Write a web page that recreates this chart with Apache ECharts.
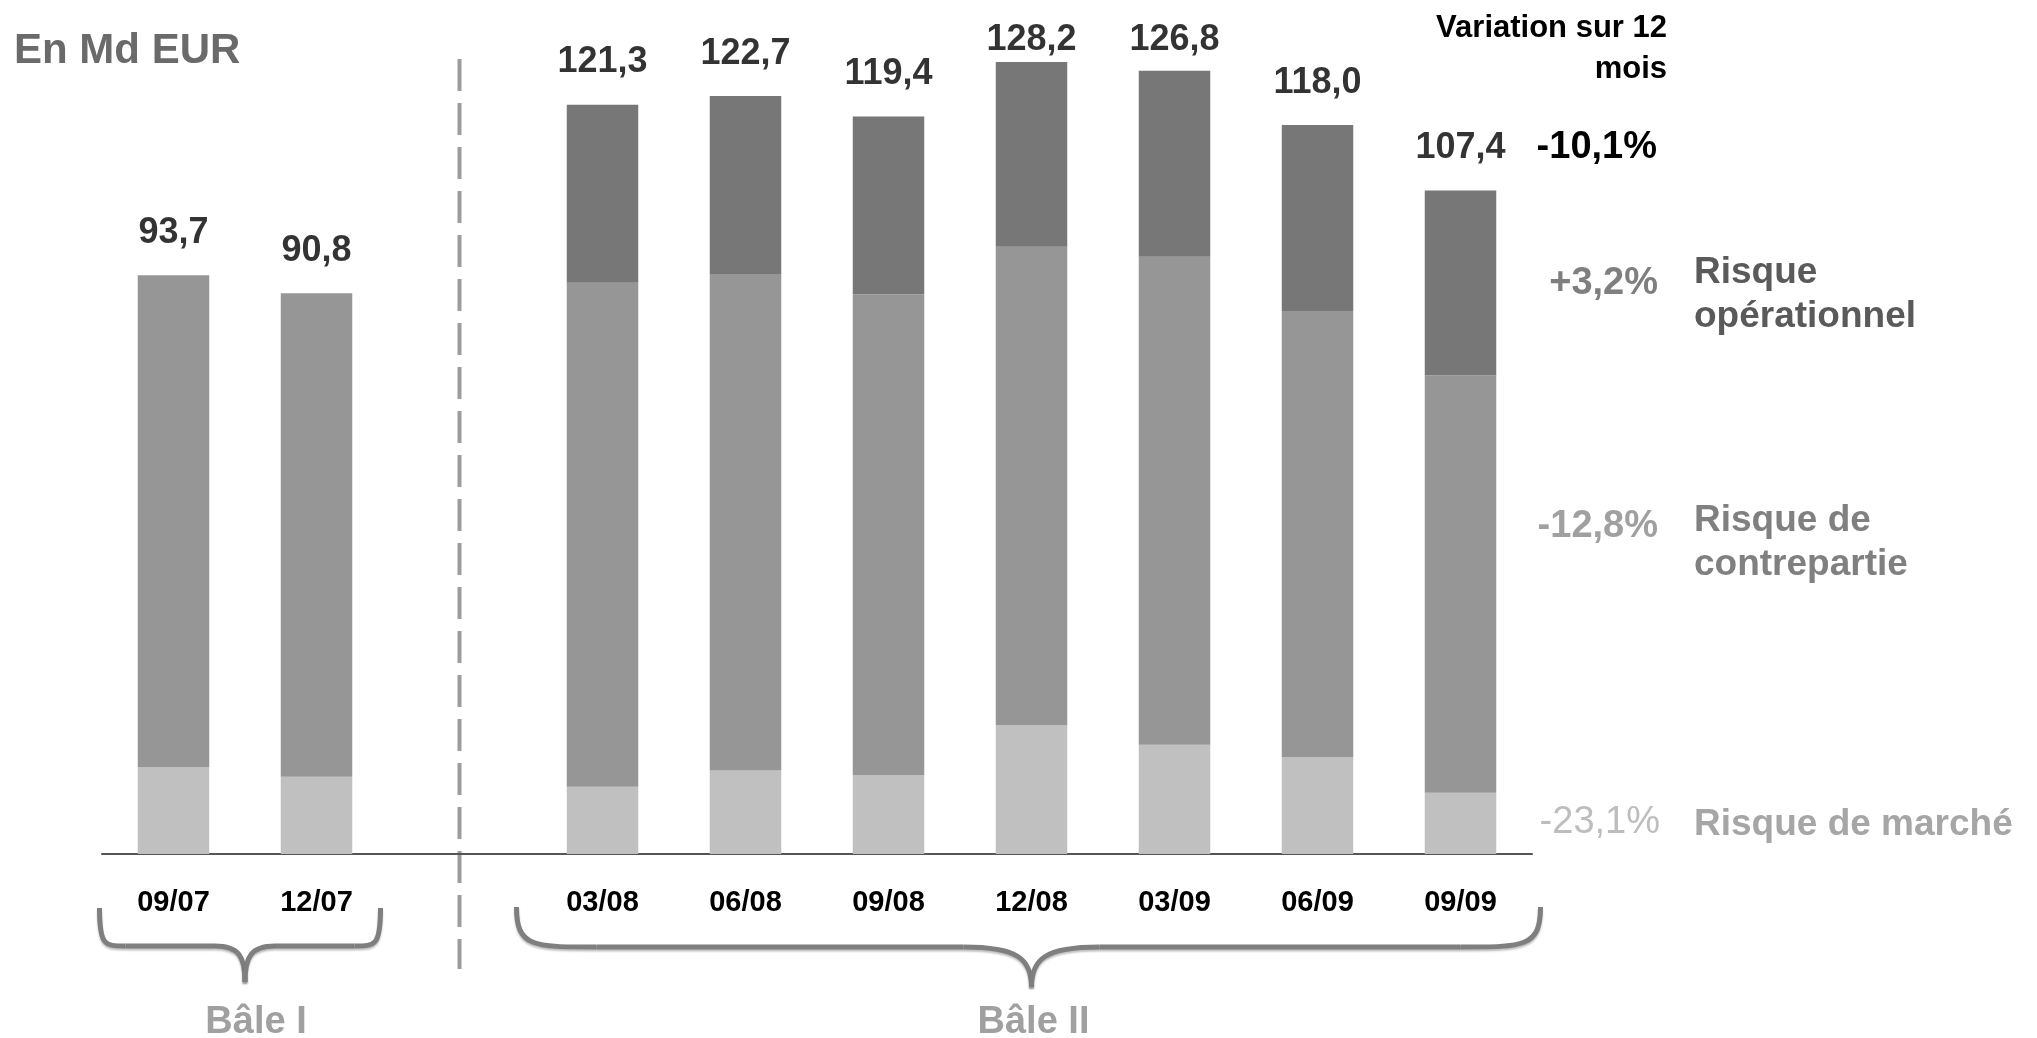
<!DOCTYPE html>
<html>
<head>
<meta charset="utf-8">
<script src="https://cdn.jsdelivr.net/npm/echarts@6/dist/echarts.min.js"></script>
<style>
  html, body { margin: 0; padding: 0; background: #fff; }
  #chart { width: 2037px; height: 1038px; }
</style>
</head>
<body>
<div id="chart"></div>
<script>
// catégories (la case vide sépare Bâle I et Bâle II)
const categories = ['09/07', '12/07', '', '03/08', '06/08', '09/08', '12/08', '03/09', '06/09', '09/09'];
// en Md EUR
const marche = [14.1, 12.5, '-', 10.9, 13.5, 12.8, 20.9, 17.7, 15.7, 9.9];
const contrepartie = [79.6, 78.3, '-', 81.6, 80.4, 77.8, 77.4, 79.0, 72.2, 67.6];
const operationnel = ['-', '-', '-', 28.8, 28.8, 28.8, 29.9, 30.1, 30.1, 29.9];
const totals = [93.7, 90.8, '-', 121.3, 122.7, 119.4, 128.2, 126.8, 118.0, 107.4];
// variation sur 12 mois : total, opérationnel, contrepartie, marché
const variations = ['-10,1%', '+3,2%', '-12,8%', '-23,1%'];
const riskNames = ['Risque\nopérationnel', 'Risque de\ncontrepartie', 'Risque de marché'];
const groups = ['Bâle I', 'Bâle II'];

const FONT = 'Liberation Sans, Arial, sans-serif';
const fmt = v => v.toFixed(1).replace('.', ',');

const chart = echarts.init(document.getElementById('chart'));

chart.setOption({
  animation: false,
  grid: { left: 102, right: 505, top: 51, bottom: 184 },
  xAxis: {
    type: 'category',
    data: categories,
    axisLine: { lineStyle: { color: '#555', width: 2 } },
    axisTick: { show: false },
    axisLabel: {
      margin: 34,
      color: '#000',
      fontSize: 29,
      fontWeight: 'bold',
      fontFamily: FONT
    }
  },
  yAxis: { type: 'value', min: 0, max: 130, show: false },
  series: [
    {
      name: 'Risque de marché', type: 'bar', stack: 'rwa', barWidth: '50%',
      itemStyle: { color: '#c0c0c0' }, data: marche
    },
    {
      name: 'Risque de contrepartie', type: 'bar', stack: 'rwa',
      itemStyle: { color: '#969696' }, data: contrepartie
    },
    {
      name: 'Risque opérationnel', type: 'bar', stack: 'rwa',
      itemStyle: { color: '#777777' }, data: operationnel
    },
    {
      // totaux au-dessus des barres
      name: 'Total', type: 'scatter', symbolSize: 1,
      itemStyle: { color: 'rgba(0,0,0,0)' },
      z: 5,
      label: {
        show: true, position: 'top', distance: 24,
        color: '#000', fontSize: 36, fontWeight: 'bold', fontFamily: FONT,
        formatter: p => fmt(p.value)
      },
      data: totals
    }
  ]
});

// les étiquettes trop hautes restent sous le bord du cadre
const LABEL_GAP = 44, LABEL_MIN_Y = 39;
const totalItems = totals.map(v => {
  if (v === '-') return v;
  const py = chart.convertToPixel({ yAxisIndex: 0 }, v);
  const dy = Math.max(0, LABEL_MIN_Y - (py - LABEL_GAP));
  return { value: v, label: { offset: [0, dy] } };
});

// coordonnées des catégories pour les décorations
const cx = i => chart.convertToPixel({ xAxisIndex: 0 }, categories[i]);

function brace(xL, xR, xTip, yTop, yMid, yTip, rEnd, rMid) {
  const st = { stroke: '#7f7f7f', lineWidth: 5, fill: null,
               shadowColor: 'rgba(0,0,0,0.25)', shadowOffsetY: 2, shadowBlur: 2 };
  return [
    { type: 'bezierCurve', shape: { x1: xL, y1: yTop, cpx1: xL, cpy1: yMid, cpx2: xL + rEnd * 0.2, cpy2: yMid, x2: xL + rEnd, y2: yMid }, style: st },
    { type: 'line', shape: { x1: xL + rEnd, y1: yMid, x2: xTip - rMid, y2: yMid }, style: st },
    { type: 'bezierCurve', shape: { x1: xTip - rMid, y1: yMid, cpx1: xTip - rMid * 0.2, cpy1: yMid, cpx2: xTip, cpy2: yMid + (yTip - yMid) * 0.3, x2: xTip, y2: yTip }, style: st },
    { type: 'bezierCurve', shape: { x1: xTip, y1: yTip, cpx1: xTip, cpy1: yMid + (yTip - yMid) * 0.3, cpx2: xTip + rMid * 0.2, cpy2: yMid, x2: xTip + rMid, y2: yMid }, style: st },
    { type: 'line', shape: { x1: xTip + rMid, y1: yMid, x2: xR - rEnd, y2: yMid }, style: st },
    { type: 'bezierCurve', shape: { x1: xR - rEnd, y1: yMid, cpx1: xR - rEnd * 0.2, cpy1: yMid, cpx2: xR, cpy2: yMid, x2: xR, y2: yTop }, style: st }
  ];
}

function txt(text, x, y, size, color, align, weight, shadow) {
  const style = {
    text: text, fill: color, align: align, verticalAlign: 'middle',
    font: (weight || 'bold') + ' ' + size + 'px ' + FONT,
    lineHeight: 44
  };
  if (shadow) {
    style.textShadowColor = shadow;
    style.textShadowOffsetX = 3;
    style.textShadowOffsetY = 3;
  }
  return { type: 'text', x: x, y: y, style: style };
}

const sepX = cx(2);
const b1Tip = (cx(0) + cx(1)) / 2;
const b2Tip = (cx(3) + cx(9)) / 2;

const graphic = [
  // titre
  txt('En Md EUR', 14, 51, 42, '#6a6a6a', 'left', 'bold', '#b8b8b8'),
  // séparateur pointillé
  { type: 'line', shape: { x1: sepX, y1: 59, x2: sepX, y2: 969 },
    style: { stroke: '#9c9c9c', lineWidth: 4, lineDash: [32, 12] } },
  // variations sur 12 mois
  txt('Variation sur 12', 1667, 28, 31, '#000', 'right'),
  txt('mois', 1667, 69, 31, '#000', 'right'),
  txt(variations[0], 1657, 148, 38, '#000', 'right'),
  txt(variations[1], 1658, 284, 38, '#7f7f7f', 'right'),
  txt(variations[2], 1658, 527, 38, '#a0a0a0', 'right'),
  txt(variations[3], 1660, 823, 38, '#bdbdbd', 'right', 'normal'),
  // noms des risques
  txt(riskNames[0], 1694, 295, 37, '#5a5a5a', 'left'),
  txt(riskNames[1], 1694, 543, 37, '#808080', 'left'),
  txt(riskNames[2], 1694, 825, 37, '#a6a6a6', 'left'),
  // groupes
  txt(groups[0], b1Tip + 11, 1023, 38, '#a0a0a0', 'center', 'bold', '#d6d6d6'),
  txt(groups[1], b2Tip + 2, 1023, 38, '#a0a0a0', 'center', 'bold', '#d6d6d6')
].concat(
  brace(cx(0) - 74, cx(1) + 64, b1Tip, 908, 946, 982, 26, 30),
  brace(cx(3) - 86, cx(9) + 80, b2Tip, 907, 947, 987, 80, 68)
);

chart.setOption({ series: [{}, {}, {}, { data: totalItems }], graphic: graphic });
</script>
</body>
</html>
